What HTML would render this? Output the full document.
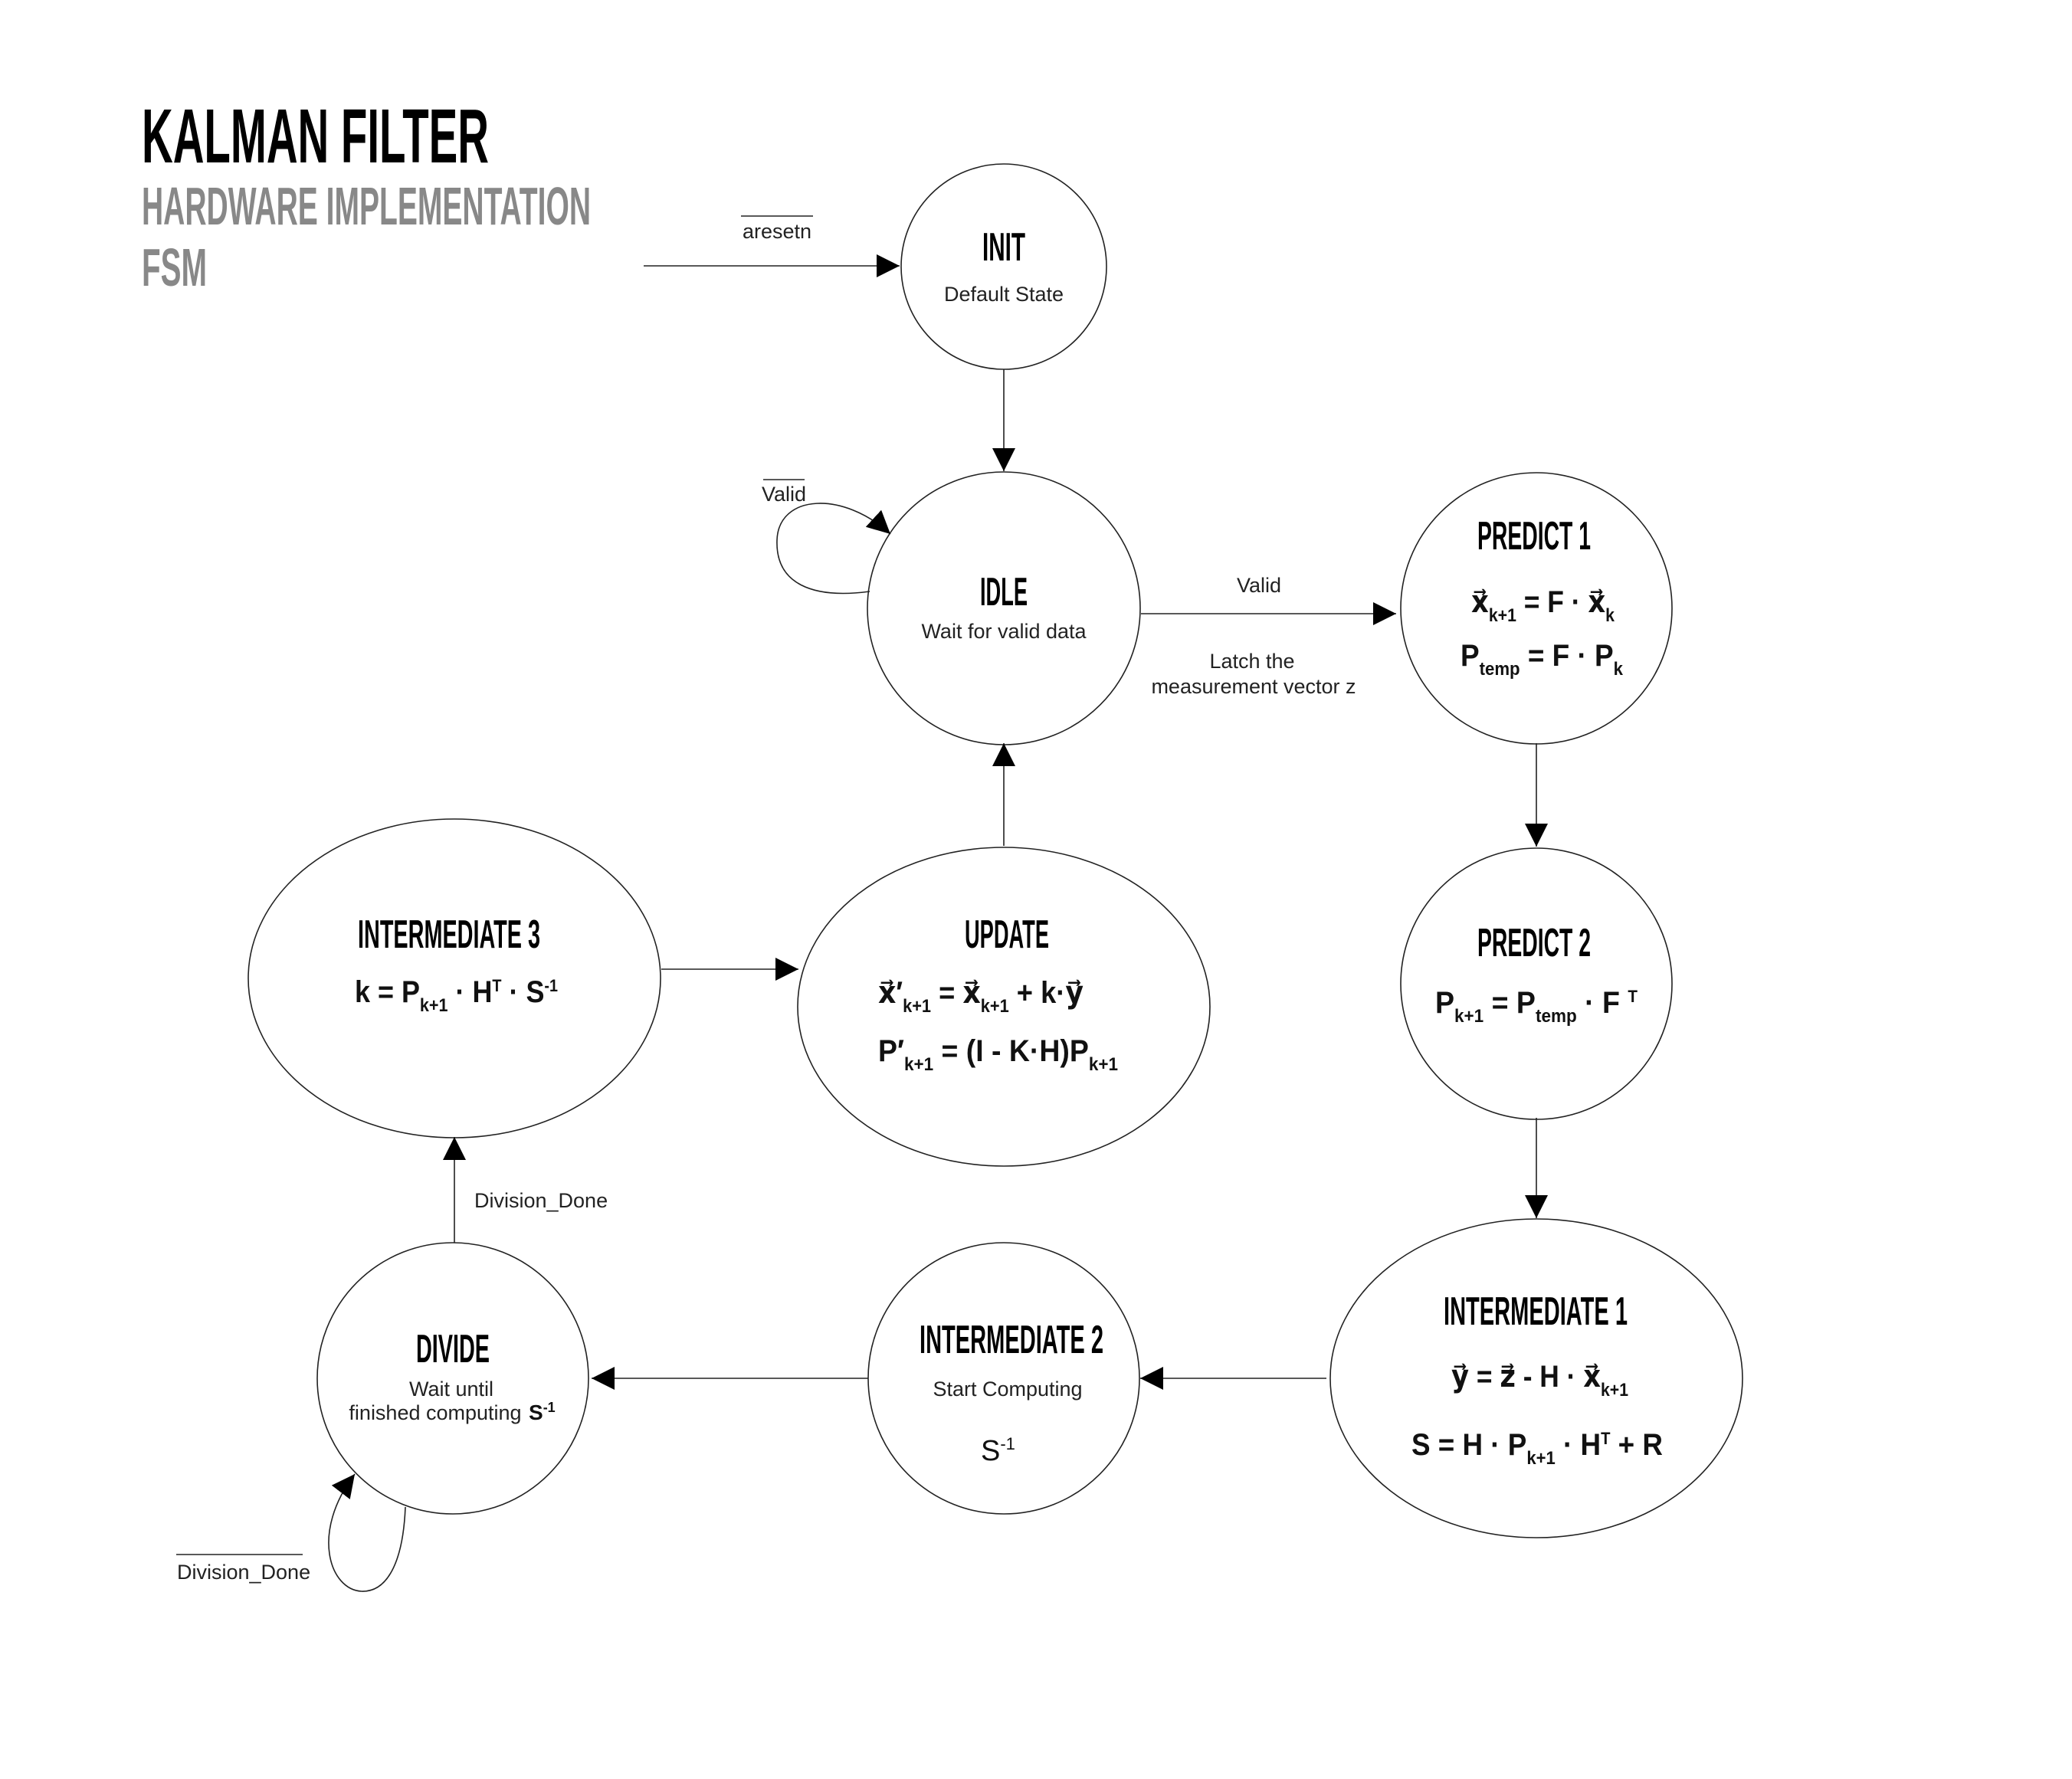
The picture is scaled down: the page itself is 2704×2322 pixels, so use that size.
<!DOCTYPE html>
<html><head><meta charset="utf-8"><style>
html,body{margin:0;padding:0;background:#fff;}
svg{display:block;}
.h{font-family:"Liberation Sans Narrow","Liberation Sans",sans-serif;font-weight:bold;}
.t{font-family:"Liberation Sans","DejaVu Sans",sans-serif;font-size:27px;fill:#222;}
.e{font-family:"Liberation Sans","DejaVu Sans",sans-serif;font-weight:bold;font-size:40px;fill:#111;}
</style></head><body>
<svg width="2704" height="2322" viewBox="0 0 2704 2322" xmlns="http://www.w3.org/2000/svg">
<defs>
<marker id="a" markerUnits="userSpaceOnUse" markerWidth="30" markerHeight="30" viewBox="0 0 10 10" refX="10" refY="5" orient="auto">
<path d="M0,0 L10,5 L0,10 z" fill="#000"/></marker>
</defs>
<rect width="2704" height="2322" fill="#fff"/>
<!-- titles -->
<text class="h" x="185" y="212" font-size="100" textLength="453" lengthAdjust="spacingAndGlyphs" fill="#000">KALMAN FILTER</text>
<text class="h" x="185" y="293" font-size="70" textLength="586" lengthAdjust="spacingAndGlyphs" fill="#888">HARDWARE IMPLEMENTATION</text>
<text class="h" x="185" y="373" font-size="70" textLength="85" lengthAdjust="spacingAndGlyphs" fill="#888">FSM</text>

<g fill="none" stroke="#222" stroke-width="1.6">
<circle cx="1310" cy="348" r="134"/>
<circle cx="1310" cy="794" r="178"/>
<circle cx="2005" cy="794" r="177"/>
<circle cx="2005" cy="1284" r="177"/>
<ellipse cx="2005" cy="1799" rx="269" ry="208"/>
<circle cx="1310" cy="1799" r="177"/>
<circle cx="591" cy="1799" r="177"/>
<ellipse cx="593" cy="1277" rx="269" ry="208"/>
<ellipse cx="1310" cy="1314" rx="269" ry="208"/>
</g>
<g fill="none" stroke="#222" stroke-width="1.6" marker-end="url(#a)">
<line x1="840" y1="347" x2="1174" y2="347"/>
<line x1="1310" y1="482" x2="1310" y2="615"/>
<line x1="1489" y1="801" x2="1822" y2="801"/>
<line x1="2005" y1="970" x2="2005" y2="1105"/>
<line x1="2005" y1="1459" x2="2005" y2="1590"/>
<line x1="1731" y1="1799" x2="1488" y2="1799"/>
<line x1="1133" y1="1799" x2="772" y2="1799"/>
<line x1="593" y1="1622" x2="593" y2="1484"/>
<line x1="863" y1="1265" x2="1042" y2="1265"/>
<line x1="1310" y1="1104" x2="1310" y2="970"/>
<path d="M1135,772 C1060,782 1012,762 1014,705 C1016,645 1100,640 1162,697"/>
<path d="M529,1967 C526,2040 505,2078 472,2077 C430,2075 405,2000 463,1924"/>
</g>

<!-- transition labels -->
<text class="t" x="1014" y="311" text-anchor="middle">aresetn</text>
<line x1="967" y1="282" x2="1061" y2="282" stroke="#222" stroke-width="1.4"/>
<text class="t" x="1023" y="654" text-anchor="middle">Valid</text>
<line x1="996" y1="626" x2="1050" y2="626" stroke="#222" stroke-width="1.4"/>
<text class="t" x="1643" y="773" text-anchor="middle">Valid</text>
<text class="t" x="1634" y="872" text-anchor="middle">Latch the</text>
<text class="t" x="1636" y="905" text-anchor="middle">measurement vector z</text>
<text class="t" x="619" y="1576">Division_Done</text>
<text class="t" x="231" y="2061">Division_Done</text>
<line x1="230" y1="2029" x2="395" y2="2029" stroke="#222" stroke-width="1.4"/>

<!-- state titles -->
<g class="h" font-size="52" text-anchor="middle" fill="#000">
<text x="1310" y="340" textLength="56" lengthAdjust="spacingAndGlyphs">INIT</text>
<text x="1310" y="790" textLength="62" lengthAdjust="spacingAndGlyphs">IDLE</text>
<text x="2002" y="717" textLength="148" lengthAdjust="spacingAndGlyphs">PREDICT 1</text>
<text x="2002" y="1248" textLength="148" lengthAdjust="spacingAndGlyphs">PREDICT 2</text>
<text x="2004" y="1729" textLength="240" lengthAdjust="spacingAndGlyphs">INTERMEDIATE 1</text>
<text x="1320" y="1766" textLength="240" lengthAdjust="spacingAndGlyphs">INTERMEDIATE 2</text>
<text x="591" y="1778" textLength="96" lengthAdjust="spacingAndGlyphs">DIVIDE</text>
<text x="586" y="1237" textLength="238" lengthAdjust="spacingAndGlyphs">INTERMEDIATE 3</text>
<text x="1314" y="1237" textLength="110" lengthAdjust="spacingAndGlyphs">UPDATE</text>
</g>

<!-- state descriptions -->
<text class="t" x="1310" y="393" text-anchor="middle">Default State</text>
<text class="t" x="1310" y="833" text-anchor="middle">Wait for valid data</text>
<text class="t" x="1315" y="1822" text-anchor="middle">Start Computing</text>
<text class="t" x="589" y="1822" text-anchor="middle">Wait until</text>
<text class="t" x="568" y="1853" text-anchor="middle">finished computing</text>
<text x="690" y="1853" font-family="Liberation Sans,sans-serif" font-weight="bold" font-size="28" fill="#111">S<tspan font-size="18" dy="-10">-1</tspan></text>
<text x="1280" y="1906" font-family="Liberation Sans,sans-serif" font-size="38" fill="#111">S<tspan font-size="22" dy="-14">-1</tspan></text>

<!-- equations -->
<text class="e" x="1920" y="799" textLength="187" lengthAdjust="spacingAndGlyphs">x&#x20D7;<tspan font-size="24" dy="12">k+1</tspan><tspan dy="-12"> = F · x&#x20D7;</tspan><tspan font-size="24" dy="12">k</tspan></text>
<text class="e" x="1906" y="869" textLength="212" lengthAdjust="spacingAndGlyphs">P<tspan font-size="24" dy="12">temp</tspan><tspan dy="-12"> = F · P</tspan><tspan font-size="24" dy="12">k</tspan></text>
<text class="e" x="1873" y="1322" textLength="264" lengthAdjust="spacingAndGlyphs">P<tspan font-size="24" dy="12">k+1</tspan><tspan dy="-12"> = P</tspan><tspan font-size="24" dy="12">temp</tspan><tspan dy="-12"> · F </tspan><tspan font-size="22" dy="-14">T</tspan></text>
<text class="e" x="1894" y="1810" textLength="231" lengthAdjust="spacingAndGlyphs">y&#x20D7; = z&#x20D7; - H · x&#x20D7;<tspan font-size="24" dy="12">k+1</tspan></text>
<text class="e" x="1842" y="1899" textLength="328" lengthAdjust="spacingAndGlyphs">S = H · P<tspan font-size="24" dy="12">k+1</tspan><tspan dy="-12"> · H</tspan><tspan font-size="22" dy="-14">T</tspan><tspan dy="14"> + R</tspan></text>
<text class="e" x="463" y="1308" textLength="265" lengthAdjust="spacingAndGlyphs" font-weight="normal">k = P<tspan font-size="24" dy="12">k+1</tspan><tspan dy="-12"> · H</tspan><tspan font-size="22" dy="-14">T</tspan><tspan dy="14"> · S</tspan><tspan font-size="22" dy="-14">-1</tspan></text>
<text class="e" x="1146" y="1309" textLength="268" lengthAdjust="spacingAndGlyphs" font-weight="normal">x&#x20D7;′<tspan font-size="24" dy="12">k+1</tspan><tspan dy="-12"> = x&#x20D7;</tspan><tspan font-size="24" dy="12">k+1</tspan><tspan dy="-12"> + k·y&#x20D7;</tspan></text>
<text class="e" x="1146" y="1385" textLength="313" lengthAdjust="spacingAndGlyphs" font-weight="normal">P′<tspan font-size="24" dy="12">k+1</tspan><tspan dy="-12"> = (I - K·H)P</tspan><tspan font-size="24" dy="12">k+1</tspan></text>
</svg>
</body></html>
